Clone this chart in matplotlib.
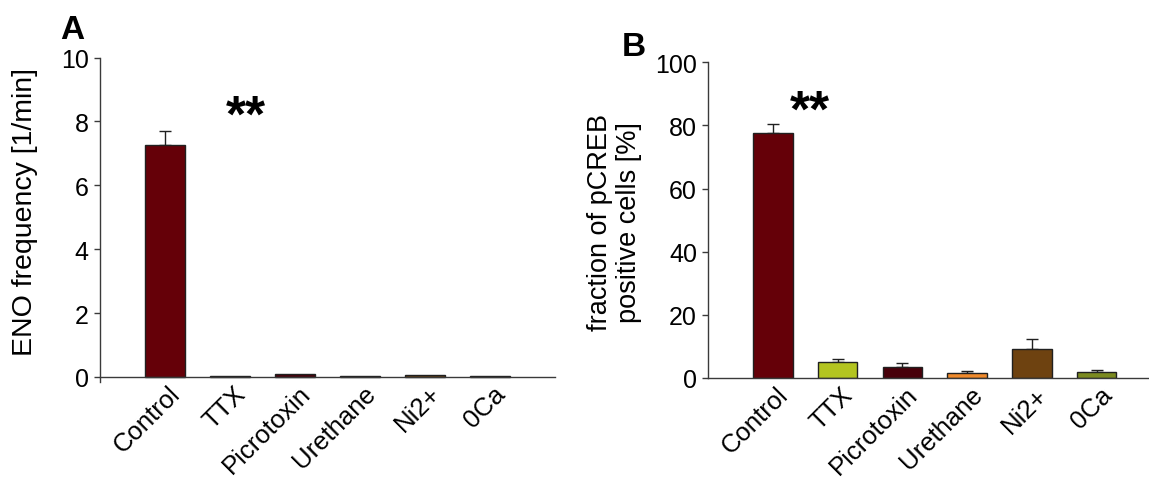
import matplotlib
matplotlib.use("Agg")
import matplotlib.pyplot as plt
import numpy as np

plt.rcParams['font.family'] = ['Liberation Sans', 'DejaVu Sans']

groups = ['Control', 'TTX', 'Picrotoxin', 'Urethane', 'Ni2+', '0Ca']
colors = ['#650008', '#b3c420', '#48000a', '#f08a2c', '#6e4210', '#7b8a20']

# panel A: ENO frequency [1/min]
eno_mean = [7.26, 0.03, 0.09, 0.015, 0.06, 0.015]
eno_err = [0.45, 0.0, 0.0, 0.0, 0.0, 0.0]

# panel B: fraction of pCREB positive cells [%]
pcreb_mean = [77.6, 5.0, 3.6, 1.5, 9.2, 1.8]
pcreb_err = [2.8, 1.0, 1.05, 0.7, 3.15, 0.8]

fig = plt.figure(figsize=(11.49, 4.81), dpi=100)
axA = fig.add_axes([0.0870, 0.2037, 0.396, 0.6746])
axB = fig.add_axes([0.6162, 0.2121, 0.3838, 0.6563])

x = np.arange(len(groups))
w = 0.61
spine_col = '#3a3a3a'


def style(ax):
    ax.spines['top'].set_visible(False)
    ax.spines['right'].set_visible(False)
    for s in ('left', 'bottom'):
        ax.spines[s].set_color(spine_col)
        ax.spines[s].set_linewidth(1.0)
    ax.tick_params(axis='y', direction='out', length=4, width=1, color=spine_col,
                   labelsize=18, pad=4)
    ax.tick_params(axis='x', length=0, labelsize=18.5, pad=3)
    ax.set_xticks(x + 0.05)
    ax.set_xticklabels(groups, rotation=45, ha='right', rotation_mode='anchor')


# A
axA.bar(x, eno_mean, width=w, color=colors, edgecolor='#202020', linewidth=1.0, zorder=2)
axA.errorbar(x[:1], eno_mean[:1], yerr=[[0], eno_err[:1]], fmt='none', ecolor='#202020',
             elinewidth=1.0, capsize=4, capthick=1.0, zorder=1)
axA.set_xlim(-1, 6)
axA.set_ylim(-0.16, 10)
axA.spines['bottom'].set_position(('data', 0))
axA.spines['left'].set_bounds(-0.16, 10)
style(axA)
axA.set_yticks(np.arange(0, 11, 2))
axA.set_ylabel('ENO frequency [1/min]', fontsize=20.5, va='center')
axA.yaxis.set_label_coords(-0.165, 0.527)
axA.text(1.25, 8.14, '**', fontsize=37, fontweight='bold', ha='center', va='center')
fig.text(60 / 1149, 1 - 39 / 481, 'A', fontsize=24, fontweight='bold', ha='left', va='baseline')

# B
axB.bar(x, pcreb_mean, width=w, color=colors, edgecolor='#202020', linewidth=1.0, zorder=2)
axB.errorbar(x, pcreb_mean, yerr=[np.zeros(len(x)), pcreb_err], fmt='none', ecolor='#202020',
             elinewidth=1.0, capsize=4, capthick=1.0, zorder=1)
axB.set_xlim(-1, 5.81)
axB.set_ylim(0, 100)
style(axB)
axB.set_yticks(np.arange(0, 101, 20))
axB.set_ylabel('fraction of pCREB\npositive cells [%]', fontsize=19.5, va='center',
               linespacing=1.15)
axB.yaxis.set_label_coords(-0.211, 0.497)
axB.text(0.565, 84.3, '**', fontsize=37, fontweight='bold', ha='center', va='center')
fig.text(622 / 1149, 1 - 56 / 481, 'B', fontsize=24, fontweight='bold', ha='left', va='baseline')

fig.savefig('out.png', dpi=100, facecolor='white')
